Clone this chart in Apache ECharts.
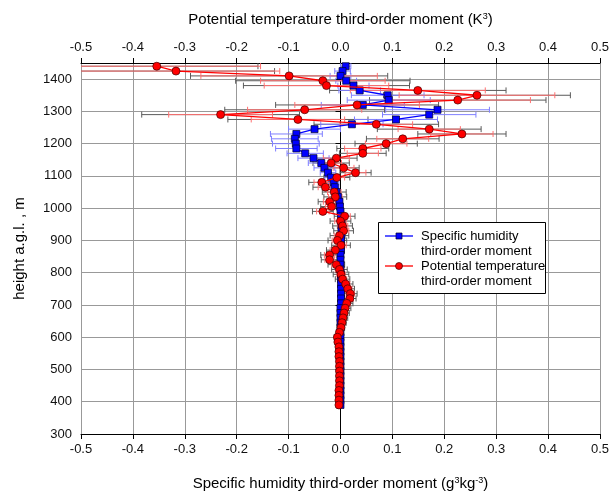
<!DOCTYPE html>
<html>
<head>
<meta charset="utf-8">
<script src="https://cdn.jsdelivr.net/npm/echarts@6/dist/echarts.min.js"></script>
<style>
html, body { margin: 0; padding: 0; background: #fff; }
#chart { width: 612px; height: 496px; }
</style>
</head>
<body>
<div id="chart"></div>
<script>
// heights (m) of the profile points, top to bottom
var heights = [1440, 1425, 1410, 1395, 1380, 1365, 1350, 1335, 1320, 1305,
    1290, 1275, 1260, 1245, 1230, 1215, 1200, 1185, 1170, 1155,
    1140, 1125, 1110, 1095, 1080, 1065, 1050, 1035, 1020, 1005,
    990, 975, 960, 945, 930, 915, 900, 885, 870, 855,
    840, 825, 810, 795, 780, 765, 750, 735, 720, 705,
    690, 675, 660, 645, 630, 615, 600, 585, 570, 555,
    540, 525, 510, 495, 480, 465, 450, 435, 420, 405,
    390];

// specific humidity third-order moment + error
var humidity = [0.010, 0.004, 0.000, 0.011, 0.025, 0.037, 0.091, 0.093, 0.043, 0.187,
    0.171, 0.107, 0.022, -0.050, -0.085, -0.088, -0.086, -0.085, -0.068, -0.052,
    -0.037, -0.031, -0.024, -0.018, -0.013, -0.011, -0.008, -0.005, -0.002, -0.001,
    0.000, 0.001, 0.002, 0.002, 0.002, 0.002, 0.001, 0.001, 0.001, 0.000,
    0.000, 0.000, 0.000, 0.001, 0.001, 0.001, 0.001, 0.001, 0.001, 0.001,
    0.000, 0.000, 0.000, 0.000, 0.000, 0.000, 0.000, 0.000, 0.000, 0.000,
    0.000, 0.000, 0.000, 0.000, 0.000, 0.000, 0.000, 0.000, 0.000, 0.000,
    0.000];
var humidityErr = [0.010, 0.015, 0.020, 0.020, 0.030, 0.040, 0.070, 0.080, 0.080, 0.100,
    0.090, 0.080, 0.060, 0.050, 0.050, 0.045, 0.045, 0.040, 0.035, 0.030,
    0.025, 0.020, 0.015, 0.012, 0.010, 0.008, 0.007, 0.006, 0.005, 0.005,
    0.004, 0.004, 0.004, 0.004, 0.004, 0.004, 0.004, 0.004, 0.004, 0.004,
    0.003, 0.003, 0.003, 0.003, 0.003, 0.003, 0.003, 0.003, 0.003, 0.003,
    0.002, 0.002, 0.002, 0.002, 0.002, 0.002, 0.002, 0.002, 0.002, 0.002,
    0.002, 0.002, 0.002, 0.002, 0.002, 0.002, 0.002, 0.002, 0.002, 0.002,
    0.002];

// potential temperature third-order moment + two error estimates
var potTemp = [-0.354, -0.317, -0.099, -0.034, -0.027, 0.149, 0.263, 0.226, 0.032, -0.069,
    -0.231, -0.082, 0.069, 0.171, 0.234, 0.120, 0.088, 0.043, 0.043, -0.008,
    -0.018, 0.006, 0.029, -0.007, -0.036, -0.029, -0.012, -0.010, -0.021, -0.017,
    -0.034, 0.008, 0.000, 0.004, 0.006, -0.002, -0.006, 0.001, -0.010, -0.021,
    -0.021, -0.008, -0.002, 0.001, 0.004, 0.010, 0.014, 0.019, 0.018, 0.012,
    0.009, 0.007, 0.005, 0.003, 0.001, -0.002, -0.006, -0.005, -0.003, -0.003,
    -0.003, -0.002, -0.002, -0.002, -0.002, -0.002, -0.002, -0.003, -0.003, -0.003,
    -0.003];
var potTempErr = [0.200, 0.200, 0.170, 0.120, 0.120, 0.130, 0.150, 0.140, 0.120, 0.110,
    0.100, 0.090, 0.070, 0.060, 0.060, 0.050, 0.040, 0.035, 0.030, 0.025,
    0.020, 0.020, 0.020, 0.015, 0.015, 0.014, 0.013, 0.013, 0.012, 0.012,
    0.012, 0.011, 0.011, 0.010, 0.010, 0.010, 0.010, 0.010, 0.010, 0.010,
    0.009, 0.009, 0.008, 0.008, 0.008, 0.008, 0.008, 0.008, 0.007, 0.007,
    0.006, 0.006, 0.005, 0.005, 0.004, 0.004, 0.004, 0.003, 0.003, 0.003,
    0.003, 0.003, 0.003, 0.003, 0.003, 0.003, 0.003, 0.003, 0.003, 0.003,
    0.003];
var potTempErrGrey = [0.195, 0.190, 0.190, 0.168, 0.160, 0.170, 0.180, 0.170, 0.157, 0.154,
    0.152, 0.135, 0.120, 0.100, 0.085, 0.070, 0.060, 0.050, 0.045, 0.040,
    0.035, 0.030, 0.030, 0.025, 0.025, 0.024, 0.023, 0.022, 0.022, 0.021,
    0.020, 0.020, 0.020, 0.019, 0.019, 0.018, 0.018, 0.018, 0.017, 0.017,
    0.016, 0.016, 0.015, 0.015, 0.014, 0.014, 0.013, 0.013, 0.012, 0.012,
    0.011, 0.010, 0.009, 0.008, 0.007, 0.006, 0.006, 0.005, 0.005, 0.005,
    0.005, 0.005, 0.005, 0.005, 0.005, 0.005, 0.005, 0.005, 0.005, 0.005,
    0.005];

var X_MIN = -0.5, X_MAX = 0.5;
var FONT = 'Liberation Sans, Arial, sans-serif';

var chart = echarts.init(document.getElementById('chart'));

function pairs(vals) {
    return heights.map(function (h, i) { return [vals[i], h]; });
}

// horizontal error bars with caps, clipped at the x range
function errorBars(vals, errs, color, z) {
    return {
        type: 'custom',
        silent: true,
        z: z,
        xAxisIndex: 0,
        yAxisIndex: 0,
        encode: { x: 0, y: 1 },
        data: heights.map(function (h, i) { return [vals[i], h, errs[i]]; }),
        renderItem: function (params, api) {
            var x = api.value(0), h = api.value(1), e = api.value(2);
            var lo = Math.max(x - e, X_MIN), hi = Math.min(x + e, X_MAX);
            var p1 = api.coord([lo, h]), p2 = api.coord([hi, h]);
            var st = { stroke: color, lineWidth: 1 };
            var kids = [{ type: 'line', shape: { x1: p1[0], y1: p1[1], x2: p2[0], y2: p2[1] }, style: st }];
            if (x - e >= X_MIN) kids.push({ type: 'line', shape: { x1: p1[0], y1: p1[1] - 3, x2: p1[0], y2: p1[1] + 3 }, style: st });
            if (x + e <= X_MAX) kids.push({ type: 'line', shape: { x1: p2[0], y1: p2[1] - 3, x2: p2[0], y2: p2[1] + 3 }, style: st });
            return { type: 'group', children: kids };
        }
    };
}

function getOption() {
    var tickFmt = function (v) { return v.toFixed(1); };
    return {
        animation: false,
        backgroundColor: '#fff',
        grid: { left: 81, right: 11, top: 63, bottom: 58 },
        xAxis: [
            {
                type: 'value', position: 'bottom',
                min: X_MIN, max: X_MAX, interval: 0.1,
                name: 'Specific humidity third-order moment (g{sup|3}kg{sup|-3})',
                nameLocation: 'middle', nameGap: 42,
                nameTextStyle: {
                    fontFamily: FONT, fontSize: 15, color: '#000',
                    rich: { sup: { fontFamily: FONT, fontSize: 9, verticalAlign: 'top', color: '#000' } }
                },
                axisLine: { lineStyle: { color: '#000', width: 1 } },
                axisTick: { length: 5, lineStyle: { color: '#000' } },
                axisLabel: { formatter: tickFmt, fontFamily: FONT, fontSize: 13, color: '#111', margin: 9 },
                splitLine: { show: true, lineStyle: { color: '#999', width: 1 } }
            },
            {
                type: 'value', position: 'top',
                min: X_MIN, max: X_MAX, interval: 0.1,
                name: 'Potential temperature third-order moment (K{sup|3})',
                nameLocation: 'middle', nameGap: 36,
                nameTextStyle: {
                    fontFamily: FONT, fontSize: 15, color: '#000',
                    rich: { sup: { fontFamily: FONT, fontSize: 9, verticalAlign: 'top', color: '#000' } }
                },
                axisLine: { lineStyle: { color: '#000', width: 1 } },
                axisTick: { length: 5, lineStyle: { color: '#000' } },
                axisLabel: { formatter: tickFmt, fontFamily: FONT, fontSize: 13, color: '#111', margin: 9 },
                splitLine: { show: false }
            }
        ],
        yAxis: [
            {
                type: 'value', position: 'left',
                min: 300, max: 1450, interval: 100,
                name: 'height a.g.l. , m',
                nameLocation: 'middle', nameGap: 54, nameRotate: 90,
                nameTextStyle: { fontFamily: FONT, fontSize: 15, color: '#000' },
                axisLine: { show: true, lineStyle: { color: '#000', width: 1 } },
                axisTick: { show: true, length: 5, lineStyle: { color: '#000' } },
                axisLabel: { formatter: function (v) { return String(v); }, fontFamily: FONT, fontSize: 13,
                             color: '#111', margin: 9, showMaxLabel: false },
                splitLine: { show: true, lineStyle: { color: '#999', width: 1 } }
            },
            {
                type: 'value', position: 'right',
                min: 300, max: 1450, interval: 100,
                axisLine: { show: true, lineStyle: { color: '#000', width: 1 } },
                axisTick: { show: false },
                axisLabel: { show: false },
                splitLine: { show: false }
            }
        ],
        series: [
            errorBars(potTemp, potTempErrGrey, '#5a5a5a', 1),
            errorBars(humidity, humidityErr, '#7f7fff', 2),
            errorBars(potTemp, potTempErr, '#ff7070', 2),
            {
                name: 'Specific humidity third-order moment',
                type: 'line', z: 3,
                xAxisIndex: 0, yAxisIndex: 0,
                data: pairs(humidity),
                symbol: 'rect', symbolSize: 7,
                lineStyle: { color: '#0000ff', width: 1.3 },
                itemStyle: { color: '#0000ff', borderColor: '#00002a', borderWidth: 0.7 }
            },
            {
                name: 'Potential temperature third-order moment',
                type: 'line', z: 4,
                xAxisIndex: 0, yAxisIndex: 0,
                data: pairs(potTemp),
                symbol: 'circle', symbolSize: 8,
                lineStyle: { color: '#ff0000', width: 1.3 },
                itemStyle: { color: '#ff0000', borderColor: '#400000', borderWidth: 0.7 }
            }
        ],
        graphic: [
            { type: 'rect', z: 100, shape: { x: 378.5, y: 222.5, width: 167, height: 71 },
              style: { fill: '#fff', stroke: '#000', lineWidth: 1 } },
            { type: 'line', z: 101, shape: { x1: 385, y1: 236, x2: 413, y2: 236 },
              style: { stroke: '#0000ff', lineWidth: 1.3 } },
            { type: 'rect', z: 102, shape: { x: 396, y: 233, width: 6, height: 6 },
              style: { fill: '#0000ff', stroke: '#00002a', lineWidth: 0.7 } },
            { type: 'text', z: 101, x: 421, y: 229,
              style: { text: 'Specific humidity\nthird-order moment', fontFamily: FONT, fontSize: 13,
                       lineHeight: 15, fill: '#000', verticalAlign: 'top' } },
            { type: 'line', z: 101, shape: { x1: 385, y1: 266, x2: 413, y2: 266 },
              style: { stroke: '#ff0000', lineWidth: 1.3 } },
            { type: 'circle', z: 102, shape: { cx: 399, cy: 266, r: 3.5 },
              style: { fill: '#ff0000', stroke: '#400000', lineWidth: 0.7 } },
            { type: 'text', z: 101, x: 421, y: 259,
              style: { text: 'Potential temperature\nthird-order moment', fontFamily: FONT, fontSize: 13,
                       lineHeight: 15, fill: '#000', verticalAlign: 'top' } }
        ]
    };
}

chart.setOption(getOption());
</script>
</body>
</html>
